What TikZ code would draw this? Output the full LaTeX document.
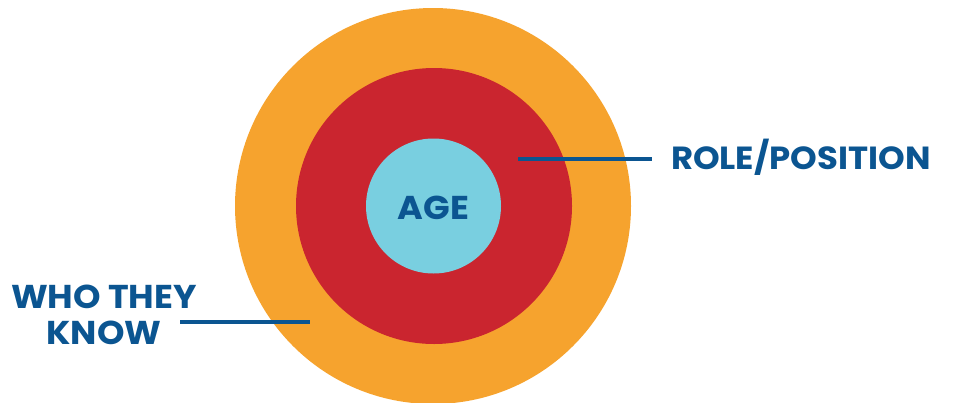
\documentclass[tikz,border=0pt]{standalone}
\usepackage{fontspec}
\setmainfont{Poppins}[FakeStretch=1.06]
\usepackage{xcolor}
\definecolor{ring orange}{HTML}{F6A32E}
\definecolor{ring red}{HTML}{CA252F}
\definecolor{ring cyan}{HTML}{79CFE0}
\definecolor{tag blue}{HTML}{0B5591}
\tikzset{ring/.style={circle, inner sep=0pt, draw=none},
    tag/.style={text=tag blue, font=\bfseries\fontsize{33}{36}\selectfont, inner sep=0pt, outer sep=19pt},
    pointer/.style={draw=tag blue, line width=4pt}}

\begin{document}
\begin{tikzpicture}[x=1pt, y=-1pt]
    \useasboundingbox (0,0) rectangle (953,402);
    % rings, outside in
    \node[ring, fill=ring orange, minimum size=396pt] (outer)  at (433,206) {};
    \node[ring, fill=ring red,    minimum size=276pt] (middle) at (434,206) {};
    \node[ring, fill=ring cyan,   minimum size=135pt] (inner)  at (433.5,206) {};
    \node[tag, outer sep=0pt, anchor=base] (age) at (433.5,219) {AGE};
    % role/position
    \coordinate (role tip) at (518,159);
    \node[tag, font=\bfseries\fontsize{32}{35}\selectfont, anchor=base west] (role) at (652,169) {ROLE/POSITION};
    \draw[pointer] (role tip) -- (role.west |- role tip);
    % who they know
    \node[tag, anchor=base] (know top) at (104,308) {WHO THEY};
    \node[tag, anchor=base] (know bottom) at (104,344) {KNOW};
    \coordinate (know tip) at (310,322);
    \draw[pointer] (know bottom.east |- know tip) -- (know tip);
\end{tikzpicture}
\end{document}
